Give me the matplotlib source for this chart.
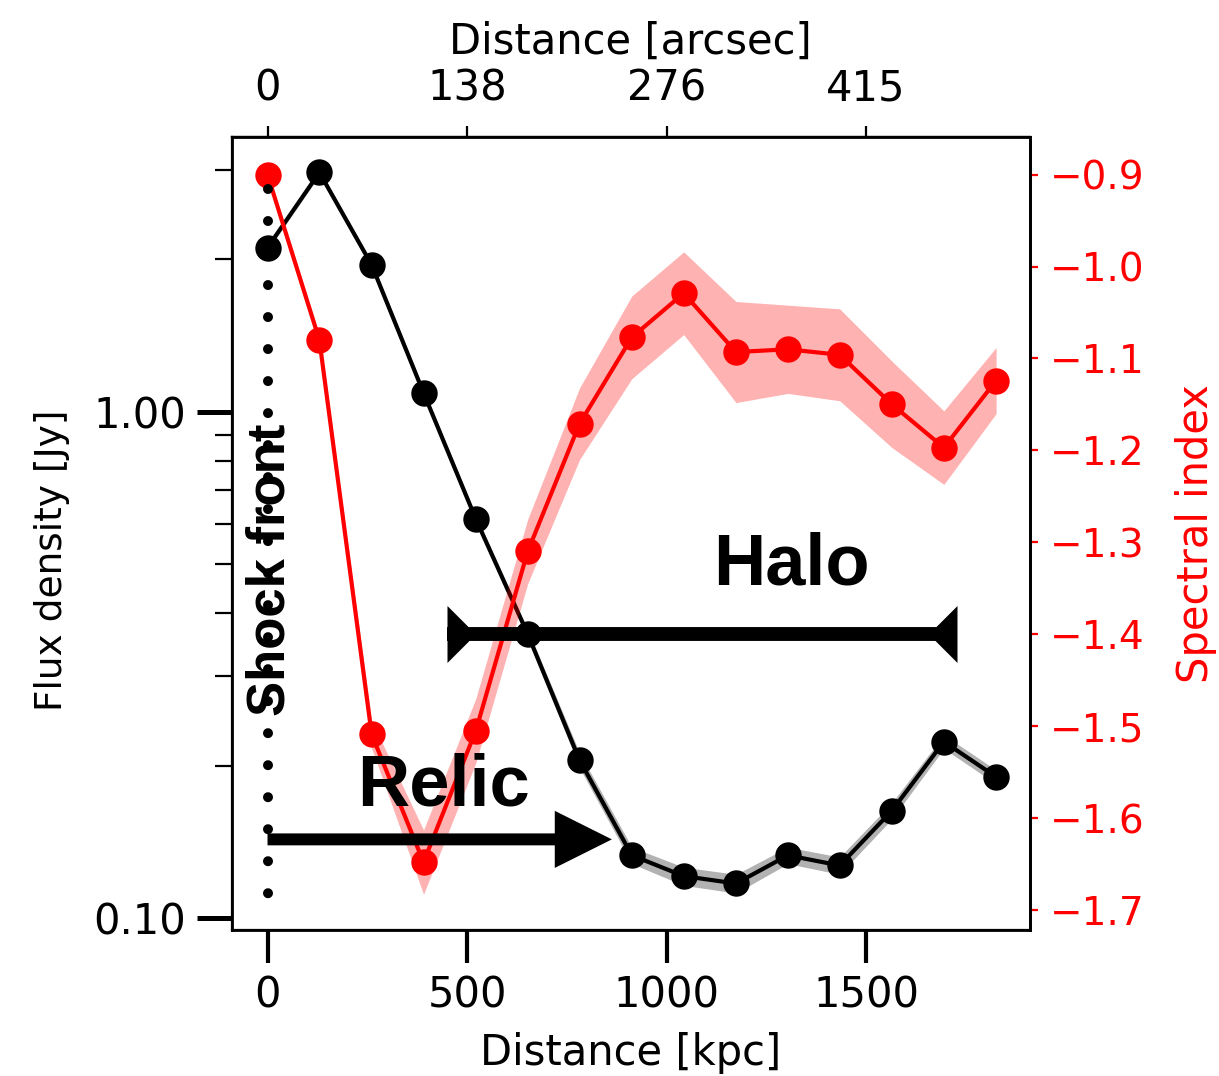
import matplotlib
matplotlib.use('Agg')
import matplotlib.pyplot as plt
from matplotlib.path import Path
from matplotlib.ticker import NullFormatter, FormatStrFormatter, LogLocator, FixedLocator, FuncFormatter

# ---------------- data ----------------
dist_kpc = [0, 130, 261, 391, 522, 652, 782, 913, 1043, 1174, 1304, 1434, 1565, 1695, 1826]
flux_jy = [2.11, 2.97, 1.95, 1.09, 0.614, 0.364, 0.205, 0.133, 0.121, 0.117, 0.133, 0.127, 0.163, 0.223, 0.190]
flux_err = [0.03, 0.04, 0.03, 0.02, 0.012, 0.008, 0.007, 0.005, 0.005, 0.005, 0.005, 0.005, 0.006, 0.007, 0.006]
spec_index = [-0.900, -1.080, -1.509, -1.648, -1.505, -1.310, -1.171, -1.077, -1.029, -1.093, -1.090, -1.096, -1.150, -1.197, -1.124]
spec_err = [0.004, 0.006, 0.015, 0.035, 0.035, 0.035, 0.039, 0.045, 0.045, 0.055, 0.048, 0.050, 0.047, 0.040, 0.036]

top_tick_kpc = [0, 500, 1000, 1500]
top_tick_labels = ['0', '138', '276', '415']
right_ticks = [-0.9, -1.0, -1.1, -1.2, -1.3, -1.4, -1.5, -1.6, -1.7]

shock_span = (0.1105, 2.76)         # flux range of the dotted shock-front line
relic_arrow = (0, 863, 0.143)       # x start, x end, flux level
halo_arrow = (449, 1728, 0.364)

plt.rcParams['font.family'] = 'DejaVu Sans'
fig = plt.figure(figsize=(6.095, 5.38), dpi=200)
ax = fig.add_axes([0.19, 0.1357, 0.655, 0.7370])

# black: flux density
lo = [f - e for f, e in zip(flux_jy, flux_err)]
hi = [f + e for f, e in zip(flux_jy, flux_err)]
ax.fill_between(dist_kpc, lo, hi, color='black', alpha=0.3, lw=0)
ax.plot(dist_kpc, flux_jy, color='black', lw=1.5, marker='o', ms=8.5)
ax.set_yscale('log')
ax.set_xlim(-90, 1911)
ax.set_ylim(0.0947, 3.49)
ax.yaxis.set_major_locator(FixedLocator([0.1, 1.0]))
ax.yaxis.set_major_formatter(FormatStrFormatter('%.2f'))
ax.yaxis.set_minor_locator(LogLocator(base=10, subs=range(2, 10)))
ax.yaxis.set_minor_formatter(NullFormatter())
ax.set_xticks([0, 500, 1000, 1500])
ax.tick_params(axis='x', which='major', direction='out', length=12, width=1.5, labelsize=15, pad=4)
ax.tick_params(axis='y', which='major', direction='out', length=12.5, width=1.8, labelsize=15, pad=4)
ax.tick_params(axis='y', which='minor', direction='out', length=6, width=0.8)
ax.set_xlabel('Distance [kpc]', fontsize=15, labelpad=5.5)
ax.set_ylabel('Flux density [Jy]', fontsize=13.5)
ax.yaxis.set_label_coords(-0.203, 0.4666)
for s in ax.spines.values():
    s.set_linewidth(1.0)

# top axis in arcsec
sec = ax.secondary_xaxis('top')
sec.set_xticks(top_tick_kpc, labels=top_tick_labels)
sec.tick_params(direction='out', length=4, width=0.8, labelsize=15, pad=6)
sec.set_xlabel('Distance [arcsec]', fontsize=15, labelpad=5)

# red: spectral index
ax2 = ax.twinx()
lo2 = [a - e for a, e in zip(spec_index, spec_err)]
hi2 = [a + e for a, e in zip(spec_index, spec_err)]
ax2.fill_between(dist_kpc, lo2, hi2, color='red', alpha=0.3, lw=0)
ax2.plot(dist_kpc, spec_index, color='red', lw=1.5, marker='o', ms=8.5)
ax2.set_ylim(-1.7218, -0.859)
ax2.set_yticks(right_ticks)
ax2.yaxis.set_major_formatter(FuncFormatter(lambda v, p: ('%.1f' % v).replace('-', '\u2212')))
ax2.tick_params(axis='y', direction='out', length=3, width=0.8, colors='red', labelsize=14, pad=4)
ax2.set_ylabel('Spectral index', color='red', fontsize=15)
ax2.yaxis.set_label_coords(1.181, 0.5)
ax2.spines['right'].set_linewidth(1.0)

# annotations on top of everything, in flux coordinates
tr = ax.transData
ax2.plot([0, 0], list(shock_span)[::-1], transform=tr, color='black', lw=3.6,
         dashes=(0.001, 3.2), dash_capstyle='round', solid_capstyle='round')
ax2.annotate('', xy=(relic_arrow[1], relic_arrow[2]), xycoords=tr,
             xytext=(relic_arrow[0], relic_arrow[2]), textcoords=tr,
             arrowprops=dict(arrowstyle='-|>,head_length=0.68,head_width=0.34',
                             lw=4.3, color='black', shrinkA=0, shrinkB=0,
                             mutation_scale=20, joinstyle='miter', capstyle='butt'))
ax2.plot([halo_arrow[0], halo_arrow[1]], [halo_arrow[2], halo_arrow[2]], transform=tr,
         color='black', lw=5, solid_capstyle='butt')
left_tri = Path([(0, -1), (0, 1), (1, 0), (0, -1)], [Path.MOVETO, Path.LINETO, Path.LINETO, Path.CLOSEPOLY])
right_tri = Path([(0, -1), (0, 1), (-1, 0), (0, -1)], [Path.MOVETO, Path.LINETO, Path.LINETO, Path.CLOSEPOLY])
ax2.plot([halo_arrow[0]], [halo_arrow[2]], transform=tr, marker=left_tri, ms=20.5,
         color='black', mew=0, ls='none')
ax2.plot([halo_arrow[1]], [halo_arrow[2]], transform=tr, marker=right_tri, ms=20.5,
         color='black', mew=0, ls='none')
ax2.text(440, 0.167, 'Relic', transform=tr, fontsize=26, fontweight='bold',
         family='Liberation Sans', ha='center', va='baseline')
ax2.text(1312, 0.455, 'Halo', transform=tr, fontsize=26, fontweight='bold',
         family='Liberation Sans', ha='center', va='baseline')
ax2.text(8, 0.487, 'Shock front', transform=tr, fontsize=19, fontweight='bold',
         family='Liberation Sans', ha='center', va='center', rotation=90)
ax2.set_xlim(-90, 1911)
ax2.set_ylim(-1.7218, -0.859)

fig.savefig('out.png', dpi=200)
